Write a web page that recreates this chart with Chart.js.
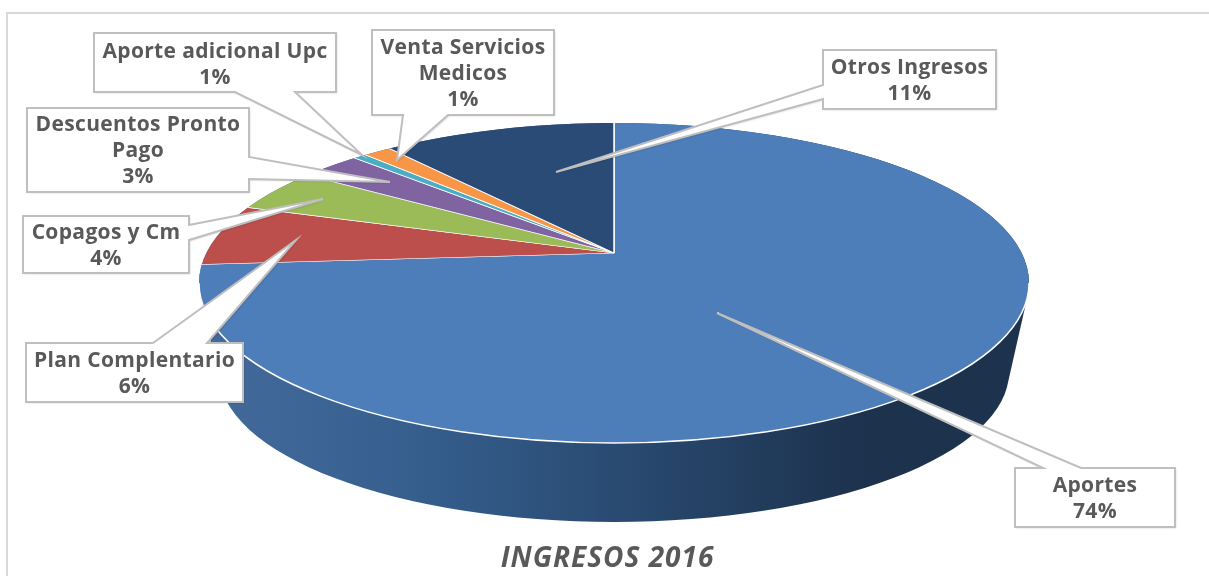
<!DOCTYPE html>
<html><head><meta charset="utf-8">
<style>html,body{margin:0;padding:0;background:#fff;overflow:hidden;width:1209px;height:576px}canvas{display:block}</style>
<script src="https://cdn.jsdelivr.net/npm/chart.js@4"></script>
</head><body>
<canvas id="c" width="1215" height="576"></canvas>
<script>
const categories = ["Aportes","Plan Complentario","Copagos y Cm","Descuentos Pronto Pago","Aporte adicional Upc","Venta Servicios Medicos","Otros Ingresos"];
const values = [73.9,5.9,4.2,2.8,0.6,1.3,11.3];
const sliceColors = ["#4d7eb9","#bc4e4b","#9bbb59","#8064a2","#4bacc6","#f79646","#2a4b75"];
const titleText = "INGRESOS 2016";

const total = values.reduce((a,b)=>a+b,0);
const FONT = 'bold 21px "Open Sans"';
const apex = {x:614,y:253}, squash = 0.4;
const topE = {x:614,y:283,rx:415,ry:160}, botE = {x:614,y:372,rx:395,ry:150};
// label callouts: box x0,y0,x1,y1, pointer base and tip, wrapped name and first text line's y
const callouts = [
 {box:[1015,468,1175,527],side:'top',a:1043,b:1081,tip:[717,313],lines:["Aportes"],y:486},
 {box:[26,343,243,402],side:'top',a:153,b:207,tip:[296,240],lines:["Plan Complentario"],y:361},
 {box:[23,216,189,273],side:'right',a:225,b:240,tip:[323,199],lines:["Copagos y Cm"],y:233},
 {box:[27,108,249,192],side:'right',a:157,b:179,tip:[390,182],lines:["Descuentos Pronto","Pago"],y:125},
 {box:[94,33,336,92],side:'bottom',a:235,b:295,tip:[362,155],lines:["Aporte adicional Upc"],y:52},
 {box:[372,30,554,115],side:'bottom',a:403,b:448,tip:[397,160],lines:["Venta Servicios","Medicos"],y:48},
 {box:[823,50,996,109],side:'left',a:85,b:99,tip:[556,172],lines:["Otros Ingresos"],y:68}
];

function drawWall(ctx){
  const g = ctx.createLinearGradient(220,0,860,0);
  g.addColorStop(0,'#42699a'); g.addColorStop(0.3,'#365f8e'); g.addColorStop(0.6,'#2a4c74'); g.addColorStop(1,'#1d324d');
  ctx.save(); ctx.fillStyle = g; ctx.beginPath();
  for(let i=0;i<=40;i++){
    const t=i/40, cy=topE.y+(botE.y-topE.y)*t, rx=topE.rx+(botE.rx-topE.rx)*t, ry=topE.ry+(botE.ry-topE.ry)*t;
    ctx.moveTo(topE.x+rx,cy); ctx.ellipse(topE.x,cy,rx,ry,0,0,Math.PI*2);
  }
  ctx.fill(); ctx.restore();
}
function drawCallout(ctx,c,idx){
  const [x0,y0,x1,y1]=c.box, [tx,ty]=c.tip; const p=[];
  if(c.side==='top') p.push([x0,y0],[c.a,y0],[tx,ty],[c.b,y0],[x1,y0],[x1,y1],[x0,y1]);
  if(c.side==='right') p.push([x0,y0],[x1,y0],[x1,c.a],[tx,ty],[x1,c.b],[x1,y1],[x0,y1]);
  if(c.side==='bottom') p.push([x0,y0],[x1,y0],[x1,y1],[c.b,y1],[tx,ty],[c.a,y1],[x0,y1]);
  if(c.side==='left') p.push([x0,y0],[x1,y0],[x1,y1],[x0,y1],[x0,c.b],[tx,ty],[x0,c.a]);
  ctx.save(); ctx.beginPath(); p.forEach((q,i)=>i?ctx.lineTo(q[0],q[1]):ctx.moveTo(q[0],q[1])); ctx.closePath();
  ctx.fillStyle='#fff'; ctx.strokeStyle='#bfbfbf'; ctx.lineWidth=2; ctx.lineJoin='miter';
  ctx.shadowColor='rgba(0,0,0,0.22)'; ctx.shadowBlur=2; ctx.shadowOffsetX=1; ctx.shadowOffsetY=1;
  ctx.fill();
  ctx.shadowColor='transparent';
  ctx.stroke();
  ctx.fillStyle='#595959'; ctx.font=FONT; ctx.letterSpacing='0.35px'; ctx.textAlign='center'; ctx.textBaseline='middle';
  const cx=(x0+x1)/2; let y=c.y;
  c.lines.forEach(l=>{ctx.fillText(l,cx,y); y+=26;});
  ctx.fillText(Math.round(values[idx]/total*100)+'%',cx,y);
  ctx.restore();
}
const pie3d = {
  id:'pie3d',
  beforeDraw(chart){
    const {ctx}=chart; ctx.save(); ctx.strokeStyle='#d9d9d9'; ctx.lineWidth=2;
    ctx.beginPath(); ctx.moveTo(7,576); ctx.lineTo(7,13); ctx.lineTo(1215,13); ctx.stroke(); ctx.restore();
    ctx.letterSpacing='1px'; // applies to the title drawn next
  },
  beforeDatasetsDraw(chart){
    const {ctx}=chart, arc=chart.getDatasetMeta(0).data[0];
    ctx.letterSpacing='0px';
    drawWall(ctx);
    ctx.save();
    ctx.beginPath(); ctx.ellipse(topE.x,topE.y,topE.rx,topE.ry,0,0,Math.PI*2); ctx.clip();
    ctx.translate(apex.x,apex.y); ctx.scale(1,squash); ctx.translate(-arc.x,-arc.y);
  },
  afterDatasetsDraw(chart){
    const {ctx}=chart; ctx.restore();
    ctx.save(); ctx.strokeStyle='#fff'; ctx.lineWidth=1.5; ctx.beginPath();
    ctx.ellipse(topE.x,topE.y,topE.rx,topE.ry,0,0,Math.PI); ctx.stroke(); ctx.restore();
    callouts.forEach((c,i)=>drawCallout(ctx,c,i));
  }
};
new Chart(document.getElementById('c'),{
  type:'pie',
  data:{labels:categories,datasets:[{data:values,backgroundColor:sliceColors,borderColor:'#fff',borderWidth:1.5,radius:560,clip:false}]},
  options:{responsive:false,animation:false,
    plugins:{legend:{display:false},tooltip:{enabled:false},
      title:{display:true,text:titleText,position:'bottom',color:'#595959',padding:{top:0,bottom:0},
        font:{family:'"Open Sans"',size:28,weight:'bold',style:'italic'}}}},
  plugins:[pie3d]
});
</script>
</body></html>
